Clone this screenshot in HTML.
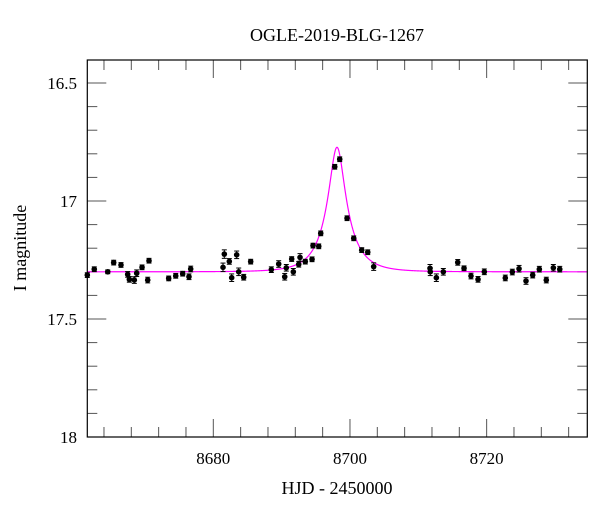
<!DOCTYPE html>
<html><head><meta charset="utf-8"><style>
body{margin:0;background:#fff}
svg text{font-family:"Liberation Serif",serif;fill:#000}
</style></head><body>
<svg id="chart" width="600" height="512" viewBox="0 0 600 512" xmlns="http://www.w3.org/2000/svg">
<rect width="600" height="512" fill="#fff"/>
<text x="337" y="41" font-size="18" text-anchor="middle">OGLE-2019-BLG-1267</text>
<text x="337" y="494" font-size="18" text-anchor="middle">HJD - 2450000</text>
<text transform="translate(26,248) rotate(-90)" font-size="18" text-anchor="middle">I magnitude</text>
<g id="ticks"></g>
<g id="model"></g>
<g id="points"></g>
<rect x="87.3" y="60" width="500" height="377" fill="none" stroke="#000" stroke-width="1.2"/>
</svg>
<script>
const times=[8661.56,8662.58,8664.55,8665.42,8666.49,8667.47,8667.71,8668.44,8668.79,8669.57,8670.40,8670.59,8673.47,8674.50,8675.52,8676.44,8676.69,8681.42,8681.61,8682.34,8682.69,8683.42,8683.72,8684.45,8685.47,8688.49,8689.57,8690.45,8690.68,8691.47,8691.71,8692.50,8692.69,8693.46,8694.45,8694.59,8695.43,8695.72,8697.77,8698.50,8699.57,8700.55,8701.72,8702.60,8703.47,8711.71,8711.75,8712.64,8713.66,8715.77,8716.69,8717.71,8718.74,8719.66,8722.73,8723.76,8724.74,8725.76,8726.74,8727.71,8728.73,8729.76,8730.70];
const mags=[17.314,17.289,17.300,17.261,17.271,17.311,17.332,17.335,17.306,17.281,17.335,17.253,17.328,17.317,17.308,17.321,17.288,17.281,17.225,17.256,17.325,17.228,17.300,17.323,17.257,17.291,17.267,17.321,17.283,17.246,17.300,17.268,17.239,17.257,17.247,17.189,17.192,17.137,16.855,16.823,17.073,17.158,17.208,17.217,17.278,17.285,17.300,17.325,17.300,17.260,17.285,17.318,17.332,17.300,17.326,17.301,17.287,17.339,17.314,17.289,17.335,17.283,17.289];
const errs=[0.010,0.010,0.008,0.010,0.010,0.012,0.012,0.014,0.014,0.010,0.012,0.010,0.010,0.010,0.010,0.012,0.012,0.018,0.018,0.012,0.016,0.016,0.016,0.012,0.010,0.012,0.014,0.014,0.014,0.010,0.014,0.012,0.016,0.010,0.010,0.010,0.010,0.010,0.010,0.010,0.010,0.010,0.010,0.010,0.016,0.016,0.016,0.016,0.014,0.012,0.010,0.012,0.012,0.012,0.012,0.012,0.014,0.014,0.012,0.012,0.012,0.014,0.012];
const modelParams=[8698.1,0.3,3.76,0.256,17.30]; // t0, u0, tE, source flux fraction, baseline mag
const xTickValues=[8680,8700,8720];
const yTickValues=[16.5,17,17.5,18];
const yTickLabels=["16.5","17","17.5","18"];

const NS="http://www.w3.org/2000/svg";
const X0=87.3,X1=587.3,Y0=60,Y1=437;
const tMin=8661.56,tMax=8734.73,mTop=16.4025,mBot=18;
function xs(t){return X0+(t-tMin)/(tMax-tMin)*(X1-X0);}
function ys(m){return Y0+(m-mTop)/(mBot-mTop)*(Y1-Y0);}
function mk(tag,attrs,parent){const e=document.createElementNS(NS,tag);for(const k in attrs)e.setAttribute(k,attrs[k]);parent.appendChild(e);return e;}

const tg=document.getElementById('ticks');
for(let v=8664;v<=8734;v+=4){
  const major=(v%20===0);const L=major?18:10;const x=xs(v);
  let a=mk('line',{x1:x,x2:x,y1:Y1,y2:Y1-L,stroke:'#555','stroke-width':1},tg);
  
  
  let b=mk('line',{x1:x,x2:x,y1:Y0,y2:Y0+L,stroke:'#555','stroke-width':1},tg);
  
  
}
xTickValues.forEach(v=>{
  const t=mk('text',{x:xs(v),y:464,'font-size':17,'text-anchor':'middle'},tg);t.textContent=String(v);
  
  
});
for(let k=165;k<=180;k++){
  const v=k/10;const major=(k%5===0);const L=major?19:10;const y=ys(v);
  let a=mk('line',{x1:X0,x2:X0+L,y1:y,y2:y,stroke:'#555','stroke-width':1},tg);
  
  
  let b=mk('line',{x1:X1,x2:X1-L,y1:y,y2:y,stroke:'#555','stroke-width':1},tg);
  
  
}
yTickValues.forEach((v,i)=>{
  const t=mk('text',{x:77,y:ys(v)+6,'font-size':17,'text-anchor':'end'},tg);t.textContent=yTickLabels[i];
  
  
});

// model
const [t0,u0,tE,fs,base]=modelParams;
let d='';
for(let t=tMin;t<=tMax;t+=0.02){
  const tau=(t-t0)/tE;const u=Math.sqrt(u0*u0+tau*tau);
  const A=(u*u+2)/(u*Math.sqrt(u*u+4));
  const Aobs=fs*A+(1-fs);
  const m=base-2.5*Math.log10(Aobs);
  d+=(d?'L':'M')+xs(t).toFixed(2)+','+ys(m).toFixed(2);
}
const mg=document.getElementById('model');
const path=mk('path',{d:d,fill:'none',stroke:'#ff00ff','stroke-width':1.2},mg);



// points
const pg=document.getElementById('points');
times.forEach((t,i)=>{
  const x=xs(t),y=ys(mags[i]),e=ys(mags[i]+errs[i])-y;
  const g=mk('g',{},pg);
  
  
  mk('line',{x1:x,x2:x,y1:y-e,y2:y+e,stroke:'#000','stroke-width':1},g);
  mk('line',{x1:x-2.5,x2:x+2.5,y1:y-e,y2:y-e,stroke:'#000','stroke-width':1},g);
  mk('line',{x1:x-2.5,x2:x+2.5,y1:y+e,y2:y+e,stroke:'#000','stroke-width':1},g);
  mk('circle',{cx:x,cy:y,r:2.8,fill:'#000'},g);
});
</script>
</body></html>
